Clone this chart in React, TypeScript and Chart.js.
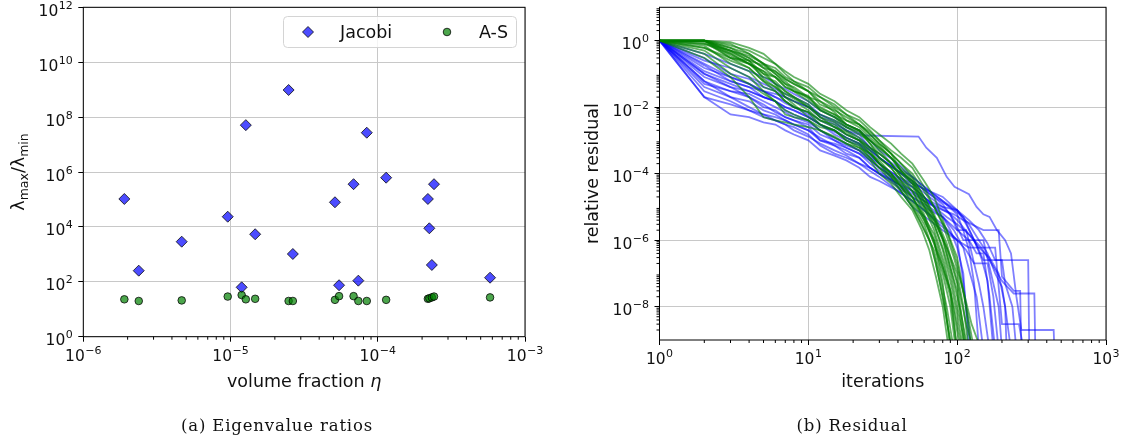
import React, { useEffect, useRef } from "react";
import { Chart, registerables } from "chart.js";

Chart.register(...registerables);

// ---------- (a) Eigenvalue ratios ----------
const volumeFraction = [1.9e-6, 2.38e-6, 4.66e-6, 9.57e-6, 1.19e-5, 1.27e-5, 1.47e-5, 2.48e-5, 2.65e-5, 5.12e-5, 5.46e-5, 6.85e-5, 7.38e-5, 8.42e-5, 1.14e-4, 2.19e-4, 2.24e-4, 2.33e-4, 2.41e-4, 5.79e-4];
const jacobiRatio = [1.04e5, 254, 2890, 2.35e4, 63, 5.1e7, 5.4e3, 9.7e8, 1030, 7.9e4, 75, 3.6e5, 110, 2.7e7, 6.2e5, 1.04e5, 8.9e3, 410, 3.6e5, 141];
const asRatio = [23, 20, 21, 29, 33, 23, 24, 20, 20, 22, 30, 30, 20, 20, 22, 24, 25, 27, 29, 27];

const leftXTicks = [1e-6, 1e-5, 1e-4, 1e-3];
const leftXTickExp = ["\u22126", "\u22125", "\u22124", "\u22123"];
const leftYTicks = [1, 1e2, 1e4, 1e6, 1e8, 1e10, 1e12];
const leftYTickExp = ["0", "2", "4", "6", "8", "10", "12"];
const legendLabels = ["Jacobi", "A-S"];

// ---------- (b) Residual: [iteration, relative residual] ----------
const jacobiRuns = [
  [[1, 1], [2, 2e-2], [3, 6e-3], [4, 5e-3], [5, 3.5e-3], [6, 3e-3], [7, 2e-3], [8, 1.5e-3], [10, 1e-3], [12, 5e-4], [15, 3.5e-4], [18, 2.5e-4], [22, 1.5e-4], [26, 8e-5], [30, 6e-5], [40, 3e-5], [50, 1.5e-5], [60, 8e-6], [70, 4e-6], [85, 2e-6], [100, 1e-6], [115, 5e-7], [130, 2e-7], [140, 5e-8], [150, 1e-8], [165, 5e-10]],
  [[1, 1], [2, 6e-2], [3, 3e-2], [4, 2e-2], [5, 1e-2], [6, 8e-3], [7, 5e-3], [8, 4e-3], [10, 2.5e-3], [12, 1e-3], [15, 7e-4], [18, 5e-4], [22, 3e-4], [26, 1.5e-4], [30, 1e-4], [40, 4e-5], [50, 2e-5], [65, 1e-5], [80, 5e-6], [95, 2e-6], [110, 6e-7], [122, 1e-7], [135, 2e-8], [150, 5e-10]],
  [[1, 1], [2, 1.5e-1], [3, 8e-2], [4, 5e-2], [5, 3e-2], [6, 2.5e-2], [7, 2e-2], [8, 1.5e-2], [10, 1e-2], [12, 6e-3], [15, 4e-3], [18, 2.5e-3], [21, 1.8e-3], [24, 1.4e-3], [55, 1.3e-3], [62, 6e-4], [73, 3e-4], [85, 8e-5], [96, 4e-5], [120, 2.4e-5], [135, 1e-5], [150, 6e-6], [165, 5e-6], [185, 2e-6], [210, 1e-6], [230, 4e-7], [250, 2e-8], [270, 2e-9], [445, 2e-9], [450, 5e-10]],
  [[1, 1], [2, 3e-1], [3, 1e-1], [4, 7e-2], [5, 4e-2], [6, 3e-2], [7, 2e-2], [8, 1.5e-2], [10, 1e-2], [12, 5e-3], [15, 3e-3], [18, 2e-3], [22, 1.2e-3], [26, 6e-4], [30, 4e-4], [40, 1.5e-4], [50, 8e-5], [65, 3e-5], [80, 1.5e-5], [100, 8e-6], [120, 4e-6], [140, 2e-6], [160, 8e-7], [180, 2.5e-7], [300, 2.5e-7], [305, 5e-10]],
  [[1, 1], [2, 4e-2], [3, 2e-2], [4, 1.5e-2], [5, 8e-3], [6, 6e-3], [7, 4e-3], [8, 3e-3], [10, 2e-3], [12, 1.2e-3], [15, 7e-4], [18, 4e-4], [22, 3e-4], [26, 1.5e-4], [30, 1e-4], [40, 5e-5], [50, 2.5e-5], [65, 1.2e-5], [80, 8e-6], [95, 6e-6], [110, 4e-6], [150, 2e-6], [190, 2e-6], [200, 8e-8], [240, 3e-8], [265, 3e-8], [270, 5e-10]],
  [[1, 1], [2, 1e-1], [3, 5e-2], [4, 3e-2], [5, 2e-2], [6, 1.5e-2], [7, 8e-3], [8, 6e-3], [10, 4e-3], [12, 2e-3], [15, 1.2e-3], [18, 8e-4], [22, 5e-4], [26, 2.5e-4], [30, 1.5e-4], [40, 6e-5], [50, 3e-5], [65, 1.5e-5], [80, 1e-5], [100, 4e-6], [120, 1.5e-6], [145, 6e-7], [170, 2e-7], [200, 6e-8], [240, 2.5e-8], [330, 2.5e-8], [335, 5e-10]],
  [[1, 1], [2, 5e-2], [3, 3e-2], [4, 2.5e-2], [5, 1.5e-2], [6, 1e-2], [7, 7e-3], [8, 5e-3], [10, 3.5e-3], [12, 2e-3], [15, 1e-3], [18, 7e-4], [22, 5e-4], [26, 3e-4], [30, 2e-4], [40, 8e-5], [50, 5e-5], [65, 2e-5], [80, 1e-5], [100, 8e-6], [115, 3e-6], [130, 1e-6], [145, 3e-7], [160, 6e-8], [175, 5e-10]],
  [[1, 1], [2, 2e-1], [3, 8e-2], [4, 5e-2], [5, 3e-2], [6, 2e-2], [7, 1.5e-2], [8, 1e-2], [10, 6e-3], [12, 3e-3], [15, 2e-3], [18, 1.2e-3], [22, 8e-4], [26, 3.5e-4], [30, 2e-4], [40, 8e-5], [50, 4e-5], [60, 2e-5], [70, 1e-5], [85, 5e-6], [100, 3e-6], [120, 1.5e-6], [140, 6e-7], [165, 3e-7], [190, 1e-7], [210, 1e-8], [230, 5e-10]],
  [[1, 1], [2, 3e-2], [3, 1.5e-2], [4, 8e-3], [5, 5e-3], [6, 4e-3], [7, 3e-3], [8, 2e-3], [10, 1.3e-3], [12, 8e-4], [15, 5e-4], [18, 3.5e-4], [22, 2e-4], [26, 1.2e-4], [30, 8e-5], [40, 3e-5], [50, 1.5e-5], [65, 6e-6], [80, 3e-6], [100, 1e-6], [108, 1e-7], [115, 1e-8], [125, 5e-10]],
  [[1, 1], [2, 8e-2], [3, 4e-2], [4, 3e-2], [5, 2e-2], [6, 1.5e-2], [7, 1e-2], [8, 8e-3], [10, 5e-3], [12, 3e-3], [15, 1.8e-3], [18, 1.2e-3], [22, 8e-4], [26, 5e-4], [30, 3e-4], [40, 1.2e-4], [50, 6e-5], [70, 2e-5], [90, 1e-5], [110, 5e-6], [130, 1e-6], [150, 2.5e-7], [200, 2.5e-7], [210, 5e-8], [235, 1e-8], [250, 5e-10]],
  [[1, 1], [2, 1.2e-1], [3, 6e-2], [4, 4e-2], [5, 3e-2], [6, 2e-2], [7, 1.3e-2], [8, 1e-2], [10, 7e-3], [12, 4e-3], [15, 2.5e-3], [18, 1.5e-3], [22, 1e-3], [26, 5e-4], [30, 3e-4], [40, 1.2e-4], [50, 6e-5], [65, 2.5e-5], [80, 1.2e-5], [95, 4e-6], [110, 1e-6], [150, 1e-6], [175, 5e-8], [190, 1e-8], [200, 5e-10]],
  [[1, 1], [2, 4e-1], [3, 2e-1], [4, 1.2e-1], [5, 8e-2], [6, 5e-2], [7, 3.5e-2], [8, 2.5e-2], [10, 1.5e-2], [12, 8e-3], [15, 5e-3], [18, 3e-3], [22, 2e-3], [26, 1e-3], [30, 5e-4], [40, 2e-4], [50, 8e-5], [65, 3e-5], [80, 1.5e-5], [100, 6e-6], [110, 2e-6], [120, 5e-7], [130, 5e-8], [140, 5e-10]],
  [[1, 1], [2, 2.5e-1], [3, 1.5e-1], [4, 8e-2], [5, 5e-2], [6, 3.5e-2], [7, 2.5e-2], [8, 2e-2], [10, 1.2e-2], [12, 6e-3], [15, 3.5e-3], [18, 2e-3], [22, 1.5e-3], [26, 6e-4], [30, 3e-4], [40, 1.2e-4], [50, 5e-5], [65, 3e-5], [80, 2e-5], [100, 8e-6], [120, 3e-6], [140, 1e-6], [160, 4e-7], [180, 1e-7], [200, 4e-8], [210, 1e-8], [215, 5e-10]],
  [[1, 1], [2, 6e-2], [3, 2e-2], [4, 1e-2], [5, 6e-3], [6, 5e-3], [7, 4e-3], [8, 3e-3], [10, 2e-3], [12, 1e-3], [15, 8e-4], [18, 6e-4], [22, 4e-4], [26, 2.5e-4], [30, 1.5e-4], [40, 7e-5], [50, 4e-5], [60, 2e-5], [70, 1e-5], [80, 5e-6], [90, 2e-6], [100, 6e-7], [110, 1e-7], [120, 5e-10]],
  [[1, 1], [2, 1.8e-1], [3, 6e-2], [4, 4e-2], [5, 2e-2], [6, 1.5e-2], [7, 1e-2], [8, 8e-3], [10, 5e-3], [12, 3e-3], [15, 1.5e-3], [18, 1e-3], [22, 7e-4], [26, 4e-4], [30, 2e-4], [40, 4e-5], [50, 1e-5], [65, 4e-6], [80, 2e-6], [100, 1e-6], [120, 6e-7], [180, 6e-7], [200, 3e-9], [260, 3e-9], [280, 5e-10]],
  [[1, 1], [2, 1e-1], [3, 4e-2], [4, 2e-2], [5, 1.2e-2], [6, 7e-3], [7, 5e-3], [8, 4e-3], [10, 3e-3], [12, 1.5e-3], [15, 1e-3], [18, 6e-4], [22, 4e-4], [26, 2e-4], [30, 1.2e-4], [40, 5e-5], [50, 3e-5], [60, 1.5e-5], [75, 1e-5], [90, 6e-6], [100, 2e-6], [115, 2e-6], [130, 2e-7], [160, 2e-7], [175, 2e-8], [190, 5e-10]],
  [[1, 1], [2, 2e-2], [3, 1.2e-2], [4, 8e-3], [5, 6e-3], [6, 4e-3], [7, 3e-3], [8, 2.5e-3], [10, 1.5e-3], [12, 7e-4], [15, 4e-4], [18, 3e-4], [22, 2e-4], [26, 1.5e-4], [30, 1e-4], [40, 5e-5], [50, 2e-5], [65, 8e-6], [80, 5e-6], [100, 2e-6], [120, 1e-6], [135, 4e-7], [150, 4e-7], [165, 2e-8], [180, 5e-10]],
];

const asRuns = [
  [[1, 1], [2, 1], [3, 3e-1], [4, 2.5e-1], [5, 1e-1], [6, 8e-2], [7, 4e-2], [8, 3e-2], [10, 2.2e-2], [12, 8e-3], [15, 5e-3], [18, 2.5e-3], [22, 1.8e-3], [26, 8e-4], [30, 4e-4], [36, 2e-4], [42, 8e-5], [50, 3e-5], [60, 6e-6], [70, 1e-6], [80, 1.5e-7], [90, 2e-8], [100, 5e-10]],
  [[1, 1], [2, 1], [3, 5e-1], [4, 3e-1], [5, 1.5e-1], [6, 1.2e-1], [7, 7e-2], [8, 5e-2], [10, 3e-2], [12, 1.5e-2], [15, 9e-3], [18, 4e-3], [22, 3e-3], [26, 1.5e-3], [30, 8e-4], [36, 4e-4], [42, 1.2e-4], [50, 5e-5], [60, 1.2e-5], [70, 3e-6], [80, 5e-7], [90, 6e-8], [100, 6e-9], [110, 5e-10]],
  [[1, 1], [2, 7e-1], [3, 2e-1], [4, 1.2e-1], [5, 4e-2], [6, 3e-2], [7, 1.5e-2], [8, 1e-2], [10, 7e-3], [12, 3e-3], [15, 2e-3], [18, 1e-3], [22, 7e-4], [26, 3e-4], [30, 1.5e-4], [36, 8e-5], [42, 3e-5], [50, 1e-5], [60, 2e-6], [70, 5e-7], [78, 6e-8], [85, 1e-8], [95, 5e-10]],
  [[1, 1], [2, 1], [3, 6e-1], [4, 4e-1], [5, 2e-1], [6, 1.5e-1], [7, 8e-2], [8, 6e-2], [10, 4e-2], [12, 2e-2], [15, 1.2e-2], [18, 6e-3], [22, 4e-3], [26, 2e-3], [30, 1e-3], [36, 5e-4], [42, 3e-4], [50, 1.5e-4], [60, 4e-5], [70, 1e-5], [85, 2e-6], [100, 3e-7], [112, 2e-8], [125, 5e-10]],
  [[1, 1], [2, 5e-1], [3, 1.5e-1], [4, 8e-2], [5, 3e-2], [6, 1.5e-2], [7, 6e-3], [8, 5e-3], [10, 4e-3], [12, 2.5e-3], [15, 2e-3], [18, 1.2e-3], [22, 8e-4], [26, 4e-4], [30, 2e-4], [36, 1e-4], [42, 4e-5], [50, 1.5e-5], [60, 4e-6], [70, 1e-6], [80, 5e-8], [90, 5e-10]],
  [[1, 1], [2, 1], [3, 4e-1], [4, 2e-1], [5, 8e-2], [6, 6e-2], [7, 3e-2], [8, 2e-2], [10, 1.2e-2], [12, 5e-3], [15, 3.5e-3], [18, 2e-3], [22, 1.2e-3], [26, 6e-4], [30, 3e-4], [36, 1.5e-4], [42, 6e-5], [50, 3e-5], [60, 8e-6], [70, 3e-6], [80, 6e-7], [90, 1e-7], [100, 1e-8], [115, 5e-10]],
  [[1, 1], [2, 3e-1], [3, 8e-2], [4, 2e-2], [5, 5e-3], [6, 4e-3], [7, 3.5e-3], [8, 3e-3], [10, 2.5e-3], [12, 2e-3], [15, 1.2e-3], [18, 8e-4], [22, 5e-4], [26, 2.5e-4], [30, 1e-4], [36, 5e-5], [42, 2e-5], [50, 8e-6], [58, 2e-6], [65, 5e-7], [72, 8e-8], [80, 1e-8], [88, 5e-10]],
  [[1, 1], [2, 1], [3, 7e-1], [4, 5e-1], [5, 3e-1], [6, 2e-1], [7, 1.2e-1], [8, 8e-2], [10, 5e-2], [12, 2.5e-2], [15, 1.5e-2], [18, 8e-3], [22, 5e-3], [26, 2.5e-3], [30, 1.5e-3], [36, 8e-4], [42, 4e-4], [50, 2e-4], [60, 6e-5], [70, 2e-5], [85, 2e-6], [100, 2e-7], [115, 1e-8], [130, 5e-10]],
  [[1, 1], [2, 6e-1], [3, 2.5e-1], [4, 1.5e-1], [5, 6e-2], [6, 4e-2], [7, 2e-2], [8, 1.5e-2], [10, 8e-3], [12, 4e-3], [15, 3e-3], [18, 1.5e-3], [22, 1e-3], [26, 4e-4], [30, 2e-4], [36, 1e-4], [42, 4e-5], [50, 2e-5], [60, 5e-6], [70, 1.5e-6], [80, 2e-7], [90, 3e-8], [105, 5e-10]],
  [[1, 1], [2, 1], [3, 3.5e-1], [4, 2e-1], [5, 1.2e-1], [6, 8e-2], [7, 5e-2], [8, 4e-2], [10, 2e-2], [12, 1e-2], [15, 6e-3], [18, 3e-3], [22, 2e-3], [26, 1e-3], [30, 6e-4], [36, 3e-4], [42, 1.2e-4], [50, 6e-5], [60, 1.5e-5], [70, 5e-6], [85, 6e-7], [100, 5e-8], [115, 5e-10]],
  [[1, 1], [2, 8e-1], [3, 4e-1], [4, 2e-1], [5, 1e-1], [6, 5e-2], [7, 3e-2], [8, 2e-2], [10, 1e-2], [12, 6e-3], [15, 4e-3], [18, 2.5e-3], [22, 1.5e-3], [26, 1e-3], [30, 5e-4], [36, 2e-4], [42, 1e-4], [50, 5e-5], [60, 1e-5], [70, 2e-6], [82, 2e-7], [95, 1e-8], [108, 5e-10]],
  [[1, 1], [2, 1], [3, 5e-1], [4, 3.5e-1], [5, 2e-1], [6, 1.2e-1], [7, 7e-2], [8, 5e-2], [10, 3e-2], [12, 1.2e-2], [15, 8e-3], [18, 5e-3], [22, 3e-3], [26, 1.8e-3], [30, 1e-3], [36, 4e-4], [42, 2e-4], [50, 1e-4], [60, 3e-5], [70, 1e-5], [80, 3e-6], [95, 3e-7], [110, 3e-8], [125, 3e-9], [145, 5e-10]],
  [[1, 1], [2, 4e-1], [3, 1e-1], [4, 5e-2], [5, 2.5e-2], [6, 1.5e-2], [7, 8e-3], [8, 6e-3], [10, 4e-3], [12, 2e-3], [15, 1.3e-3], [18, 8e-4], [22, 6e-4], [26, 3e-4], [30, 1.5e-4], [36, 6e-5], [42, 3e-5], [50, 1e-5], [58, 3e-6], [65, 1e-6], [72, 2e-7], [80, 2e-8], [92, 5e-10]],
  [[1, 1], [2, 1], [3, 8e-1], [4, 4e-1], [5, 2e-1], [6, 1e-1], [7, 5e-2], [8, 3e-2], [10, 1.5e-2], [12, 8e-3], [15, 5e-3], [18, 3e-3], [22, 2e-3], [26, 8e-4], [30, 3e-4], [36, 1.5e-4], [42, 6e-5], [50, 2e-5], [60, 4e-6], [70, 8e-7], [80, 1.5e-7], [90, 3e-8], [100, 5e-10]],
  [[1, 1], [2, 9e-1], [3, 3e-1], [4, 1.5e-1], [5, 6e-2], [6, 3e-2], [7, 1.5e-2], [8, 1e-2], [10, 7e-3], [12, 4e-3], [15, 2.5e-3], [18, 1.5e-3], [22, 1e-3], [26, 6e-4], [30, 4e-4], [36, 2e-4], [42, 8e-5], [50, 4e-5], [60, 1e-5], [70, 4e-6], [85, 6e-7], [100, 1e-7], [110, 1e-8], [120, 5e-10]],
  [[1, 1], [2, 1], [3, 6e-1], [4, 3e-1], [5, 1.5e-1], [6, 8e-2], [7, 4e-2], [8, 3e-2], [10, 2e-2], [12, 1.5e-2], [15, 7e-3], [18, 3e-3], [22, 2e-3], [26, 1e-3], [30, 6e-4], [36, 3e-4], [42, 1.2e-4], [50, 6e-5], [60, 1.5e-5], [70, 4e-6], [80, 1e-6], [90, 1.5e-7], [100, 3e-8], [112, 5e-10]],
  [[1, 1], [2, 1], [3, 9e-1], [4, 6e-1], [5, 4e-1], [6, 2e-1], [7, 1e-1], [8, 6e-2], [10, 3e-2], [12, 2e-2], [15, 1e-2], [18, 6e-3], [22, 3e-3], [26, 1.5e-3], [30, 8e-4], [36, 4e-4], [42, 2e-4], [50, 8e-5], [60, 2e-5], [70, 6e-6], [85, 8e-7], [100, 6e-8], [115, 3e-9], [128, 5e-10]],
  [[1, 1], [2, 6e-1], [3, 3e-1], [4, 2e-1], [5, 1.2e-1], [6, 5e-2], [7, 2e-2], [8, 1.2e-2], [10, 5e-3], [12, 3e-3], [15, 2e-3], [18, 1e-3], [22, 6e-4], [26, 4e-4], [30, 2.5e-4], [36, 1e-4], [42, 5e-5], [50, 2e-5], [60, 5e-6], [70, 8e-7], [80, 1e-7], [90, 1e-8], [98, 5e-10]],
  [[1, 1], [2, 1], [3, 4.5e-1], [4, 2.5e-1], [5, 1.8e-1], [6, 1e-1], [7, 6e-2], [8, 3.5e-2], [10, 1.8e-2], [12, 9e-3], [15, 6e-3], [18, 4e-3], [22, 2.5e-3], [26, 1.2e-3], [30, 7e-4], [36, 3e-4], [42, 1.5e-4], [50, 7e-5], [60, 2e-5], [70, 5e-6], [80, 1.2e-6], [92, 1e-7], [105, 8e-9], [118, 5e-10]],
  [[1, 1], [2, 8e-1], [3, 5e-1], [4, 2.5e-1], [5, 7e-2], [6, 4e-2], [7, 2.5e-2], [8, 1.8e-2], [10, 1e-2], [12, 5e-3], [15, 2.5e-3], [18, 1.8e-3], [22, 1e-3], [26, 5e-4], [30, 2e-4], [36, 8e-5], [42, 4e-5], [50, 1.2e-5], [60, 3e-6], [68, 6e-7], [76, 6e-8], [84, 6e-9], [92, 5e-10]],
];

const rightXTicks = [1, 10, 100, 1000];
const rightXTickExp = ["0", "1", "2", "3"];
const rightYTicks = [1e-8, 1e-6, 1e-4, 1e-2, 1];
const rightYTickExp = ["\u22128", "\u22126", "\u22124", "\u22122", "0"];

// ---------- styling ----------
const SANS = "'DejaVu Sans', sans-serif";
const SERIF = "'DejaVu Serif', serif";
const TICK_PX = 15.5;
const SUP_PX = 11;
const LABEL_PX = 17.5;
const GRID = "#c8c8c8";
const TEXT = "#111";
const BLUE_FILL = "rgba(0,0,255,0.7)";
const GREEN_FILL = "rgba(0,128,0,0.7)";
const EDGE = "rgba(0,0,0,0.75)";

function powLabel(ctx: any, exp: string, x: number, baseline: number, align: string) {
  ctx.font = `${TICK_PX}px ${SANS}`;
  const wb = ctx.measureText("10").width;
  ctx.font = `${SUP_PX}px ${SANS}`;
  const we = ctx.measureText(exp).width;
  const total = wb + 0.5 + we;
  const x0 = align === "center" ? x - total / 2 : x - total;
  ctx.textAlign = "left";
  ctx.textBaseline = "alphabetic";
  ctx.fillStyle = TEXT;
  ctx.font = `${TICK_PX}px ${SANS}`;
  ctx.fillText("10", x0, baseline);
  ctx.font = `${SUP_PX}px ${SANS}`;
  ctx.fillText(exp, x0 + wb + 0.5, baseline - 7);
}

function line(ctx: any, x1: number, y1: number, x2: number, y2: number) {
  ctx.beginPath();
  ctx.moveTo(x1, y1);
  ctx.lineTo(x2, y2);
  ctx.stroke();
}

function spines(ctx: any, a: any) {
  ctx.save();
  ctx.strokeStyle = "#000";
  ctx.lineWidth = 1;
  ctx.strokeRect(a.left, a.top, a.right - a.left, a.bottom - a.top);
  ctx.restore();
}

function diamond(ctx: any, x: number, y: number, r: number) {
  ctx.beginPath();
  ctx.moveTo(x, y - r);
  ctx.lineTo(x + r, y);
  ctx.lineTo(x, y + r);
  ctx.lineTo(x - r, y);
  ctx.closePath();
  ctx.fillStyle = BLUE_FILL;
  ctx.fill();
  ctx.strokeStyle = EDGE;
  ctx.lineWidth = 1;
  ctx.stroke();
}

function circle(ctx: any, x: number, y: number, r: number) {
  ctx.beginPath();
  ctx.arc(x, y, r, 0, Math.PI * 2);
  ctx.fillStyle = GREEN_FILL;
  ctx.fill();
  ctx.strokeStyle = EDGE;
  ctx.lineWidth = 1;
  ctx.stroke();
}

const leftDecor = {
  id: "leftDecor",
  afterDraw(chart: any) {
    const { ctx, chartArea: a } = chart;
    const xs = chart.scales.x;
    const ys = chart.scales.y;
    ctx.save();
    ctx.strokeStyle = "#000";
    ctx.lineWidth = 1;
    for (let d = -6; d < -3; d++) {
      for (let m = 2; m <= 9; m++) {
        const px = xs.getPixelForValue(m * Math.pow(10, d));
        line(ctx, px, a.bottom, px, a.bottom + 3);
      }
    }
    spines(ctx, a);
    leftXTicks.forEach((v, i) => powLabel(ctx, leftXTickExp[i], xs.getPixelForValue(v), a.bottom + 24, "center"));
    leftYTicks.forEach((v, i) => powLabel(ctx, leftYTickExp[i], a.left - 10.5, ys.getPixelForValue(v) + 8.5, "right"));

    ctx.fillStyle = TEXT;
    ctx.textBaseline = "alphabetic";
    ctx.textAlign = "left";
    ctx.font = `${LABEL_PX}px ${SANS}`;
    const t1 = "volume fraction ";
    const w1 = ctx.measureText(t1).width;
    ctx.font = `italic ${LABEL_PX}px ${SANS}`;
    const w2 = ctx.measureText("\u03b7").width;
    const cx = (a.left + a.right) / 2;
    const sx = cx - (w1 + w2) / 2;
    ctx.font = `${LABEL_PX}px ${SANS}`;
    ctx.fillText(t1, sx, 386.5);
    ctx.font = `italic ${LABEL_PX}px ${SANS}`;
    ctx.fillText("\u03b7", sx + w1, 386.5);

    const parts = [
      { t: "\u03bb", sub: false },
      { t: "max", sub: true },
      { t: "/\u03bb", sub: false },
      { t: "min", sub: true },
    ];
    let tot = 0;
    const widths = parts.map((p) => {
      ctx.font = `${p.sub ? 12.5 : LABEL_PX}px ${SANS}`;
      const w = ctx.measureText(p.t).width;
      tot += w;
      return w;
    });
    ctx.save();
    ctx.translate(24, (a.top + a.bottom) / 2);
    ctx.rotate(-Math.PI / 2);
    let px = -tot / 2;
    parts.forEach((p, i) => {
      ctx.font = `${p.sub ? 12.5 : LABEL_PX}px ${SANS}`;
      ctx.fillText(p.t, px, p.sub ? 3.5 : 0);
      px += widths[i];
    });
    ctx.restore();

    ctx.beginPath();
    ctx.roundRect(283.5, 16.5, 233, 31, 4);
    ctx.fillStyle = "rgba(255,255,255,0.8)";
    ctx.fill();
    ctx.strokeStyle = "#d4d4d4";
    ctx.lineWidth = 1;
    ctx.stroke();
    diamond(ctx, 308, 32, 5.5);
    circle(ctx, 447, 32, 3.8);
    ctx.fillStyle = TEXT;
    ctx.font = `${LABEL_PX}px ${SANS}`;
    ctx.textAlign = "left";
    ctx.fillText(legendLabels[0], 340, 37.5);
    ctx.fillText(legendLabels[1], 479, 37.5);

    ctx.font = `16.5px ${SERIF}`;
    ctx.letterSpacing = "0.85px";
    ctx.textAlign = "center";
    ctx.fillText("(a) Eigenvalue ratios", 277, 430.5);
    ctx.letterSpacing = "0px";
    ctx.restore();
  },
};

const rightDecor = {
  id: "rightDecor",
  afterDraw(chart: any) {
    const { ctx, chartArea: a } = chart;
    const xs = chart.scales.x;
    const ys = chart.scales.y;
    ctx.save();
    ctx.strokeStyle = "#000";
    ctx.lineWidth = 1;
    for (let d = 0; d < 3; d++) {
      for (let m = 2; m <= 9; m++) {
        const px = xs.getPixelForValue(m * Math.pow(10, d));
        line(ctx, px, a.bottom, px, a.bottom + 3);
      }
    }
    for (let d = -9; d < 1; d++) {
      for (let m = 2; m <= 9; m++) {
        const py = ys.getPixelForValue(m * Math.pow(10, d));
        line(ctx, a.left - 3, py, a.left, py);
      }
    }
    spines(ctx, a);
    rightXTicks.forEach((v, i) => powLabel(ctx, rightXTickExp[i], xs.getPixelForValue(v), a.bottom + 24, "center"));
    rightYTicks.forEach((v, i) => powLabel(ctx, rightYTickExp[i], a.left - 10.5, ys.getPixelForValue(v) + 8.5, "right"));

    ctx.fillStyle = TEXT;
    ctx.textBaseline = "alphabetic";
    ctx.font = `${LABEL_PX}px ${SANS}`;
    ctx.textAlign = "center";
    ctx.fillText("iterations", (a.left + a.right) / 2, 386.5);

    ctx.save();
    ctx.translate(38, (a.top + a.bottom) / 2);
    ctx.rotate(-Math.PI / 2);
    ctx.textAlign = "center";
    ctx.fillText("relative residual", 0, 0);
    ctx.restore();

    ctx.font = `16.5px ${SERIF}`;
    ctx.letterSpacing = "0.85px";
    ctx.textAlign = "center";
    ctx.fillText("(b) Residual", 292, 430.5);
    ctx.letterSpacing = "0px";
    ctx.restore();
  },
};

function axis(ticks: number[], min: number, max: number, size: number, horizontal: boolean) {
  return {
    type: "logarithmic",
    min,
    max,
    afterBuildTicks: (s: any) => {
      s.ticks = ticks.map((value) => ({ value }));
    },
    afterFit: (s: any) => {
      if (horizontal) s.height = size;
      else s.width = size;
    },
    ticks: { display: false },
    grid: { color: GRID, lineWidth: 1, tickColor: "#000", tickLength: 5, tickWidth: 1 },
    border: { display: false },
  };
}

export default function App() {
  const leftRef = useRef<HTMLCanvasElement>(null);
  const rightRef = useRef<HTMLCanvasElement>(null);

  useEffect(() => {
    const left = new Chart(leftRef.current as any, {
      type: "scatter",
      data: {
        datasets: [
          {
            label: legendLabels[1],
            data: volumeFraction.map((x, i) => ({ x, y: asRatio[i] })),
            pointStyle: "circle",
            pointRadius: 3.8,
            backgroundColor: GREEN_FILL,
            borderColor: EDGE,
            borderWidth: 1,
          },
          {
            label: legendLabels[0],
            data: volumeFraction.map((x, i) => ({ x, y: jacobiRatio[i] })),
            pointStyle: "rectRot",
            pointRadius: 5.5,
            backgroundColor: BLUE_FILL,
            borderColor: EDGE,
            borderWidth: 1,
          },
        ],
      },
      options: {
        animation: false,
        responsive: false,
        events: [],
        layout: { padding: { left: 0, right: 560 - 525, top: 7.3, bottom: 0 } },
        plugins: { legend: { display: false }, tooltip: { enabled: false } },
        scales: {
          x: axis(leftXTicks, 1e-6, 1e-3, 441 - 336.7, true),
          y: axis(leftYTicks, 1, 1e12, 83.3, false),
        },
      } as any,
      plugins: [leftDecor],
    });

    const greenSets = asRuns.map((run, i) => ({
      label: `A-S ${i + 1}`,
      data: run.map(([x, y]) => ({ x, y })),
      showLine: true,
      borderColor: "rgba(0,128,0,0.6)",
      borderWidth: 1.8,
      pointRadius: 0,
      tension: 0,
      clip: 0,
    }));
    const blueSets = jacobiRuns.map((run, i) => ({
      label: `Jacobi ${i + 1}`,
      data: run.map(([x, y]) => ({ x, y })),
      showLine: true,
      borderColor: "rgba(0,0,255,0.5)",
      borderWidth: 1.8,
      pointRadius: 0,
      tension: 0,
      clip: 0,
    }));

    const right = new Chart(rightRef.current as any, {
      type: "scatter",
      data: { datasets: [...greenSets, ...blueSets] },
      options: {
        animation: false,
        responsive: false,
        events: [],
        layout: { padding: { left: 0, right: 567 - 546, top: 7.3, bottom: 0 } },
        plugins: { legend: { display: false }, tooltip: { enabled: false } },
        scales: {
          x: axis(rightXTicks, 1, 1000, 441 - 340, true),
          y: axis(rightYTicks, 1e-9, 10, 99.5, false),
        },
      } as any,
      plugins: [rightDecor],
    });

    return () => {
      left.destroy();
      right.destroy();
    };
  }, []);

  return (
    <div style={{ position: "absolute", left: 0, top: 0, width: 1127, height: 441, background: "#fff" }}>
      <canvas ref={leftRef} width={560} height={441} style={{ position: "absolute", left: 0, top: 0, display: "block" }} />
      <canvas ref={rightRef} width={567} height={441} style={{ position: "absolute", left: 560, top: 0, display: "block" }} />
    </div>
  );
}
